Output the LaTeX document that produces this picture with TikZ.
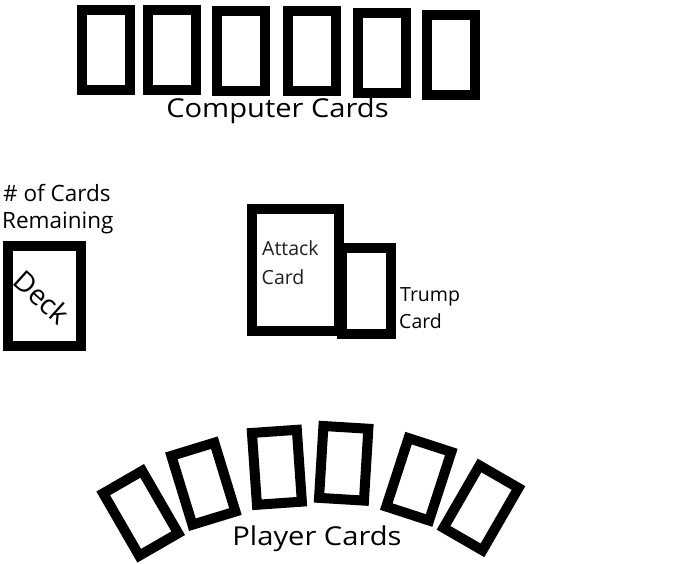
\documentclass[tikz,border=0pt]{standalone}
\usepackage{fontspec}
\setmainfont{Open Sans}
\newfontfamily\titlefont[FakeStretch=1.12]{Open Sans}
\begin{document}
\begin{tikzpicture}[x=1pt,y=-1pt,
  card/.style={draw=black,fill=white,line width=10pt,inner sep=0pt,rectangle},
  ccard/.style={card,minimum width=48pt,minimum height=80pt},
  pcard/.style={card,minimum width=45pt,minimum height=72pt},
  title/.style={inner sep=0pt,anchor=base,font=\titlefont\fontsize{26}{30}\selectfont},
  lbl/.style={inner sep=0pt,anchor=base west,font=\fontsize{22.5}{27}\selectfont},
  small/.style={inner sep=0pt,anchor=base west,font=\fontsize{19.5}{24}\selectfont}
]
\useasboundingbox (0,0) rectangle (696,564);
% computer cards
\node[ccard] (c1) at (106,50) {};
\node[ccard] (c2) at (172,50) {};
\node[ccard] (c3) at (241,51) {};
\node[ccard] (c4) at (312,51) {};
\node[ccard] (c5) at (382,53) {};
\node[ccard] (c6) at (451,55) {};
\node[title] (ctext) at (277.5,118) {Computer Cards};
% deck
\node[lbl] (ofcards) at (3,202) {\# of Cards};
\node[lbl] (remaining) at (2,229) {Remaining};
\node[card,minimum width=73pt,minimum height=100pt] (deck) at (44.5,296) {};
\node[inner sep=0pt,rotate=-42,font=\fontsize{28}{30}\selectfont] (decktext) at (42,297) {Deck};
% trump and attack
\node[card,minimum width=49pt,minimum height=86pt] (trump) at (366.5,291) {};
\node[card,minimum width=87pt,minimum height=122pt] (attack) at (295.5,270) {};
\node[small,text=black!88] (attack1) at (262,255) {Attack};
\node[small,text=black!88] (attack2) at (261.5,284) {Card};
\node[small] (trump1) at (400,301) {Trump};
\node[small] (trump2) at (399,328) {Card};
% player cards
\node[pcard,rotate=30] (p1) at (140.7,513.3) {};
\node[pcard,rotate=17] (p2) at (203.4,483.7) {};
\node[pcard,rotate=4] (p3) at (276.9,467.3) {};
\node[pcard,rotate=-3.5] (p4) at (343.7,463.3) {};
\node[pcard,rotate=-18] (p5) at (418.8,479.3) {};
\node[pcard,rotate=-30] (p6) at (481,507.9) {};
\node[title] (ptext) at (317,545.5) {Player Cards};
\end{tikzpicture}
\end{document}
